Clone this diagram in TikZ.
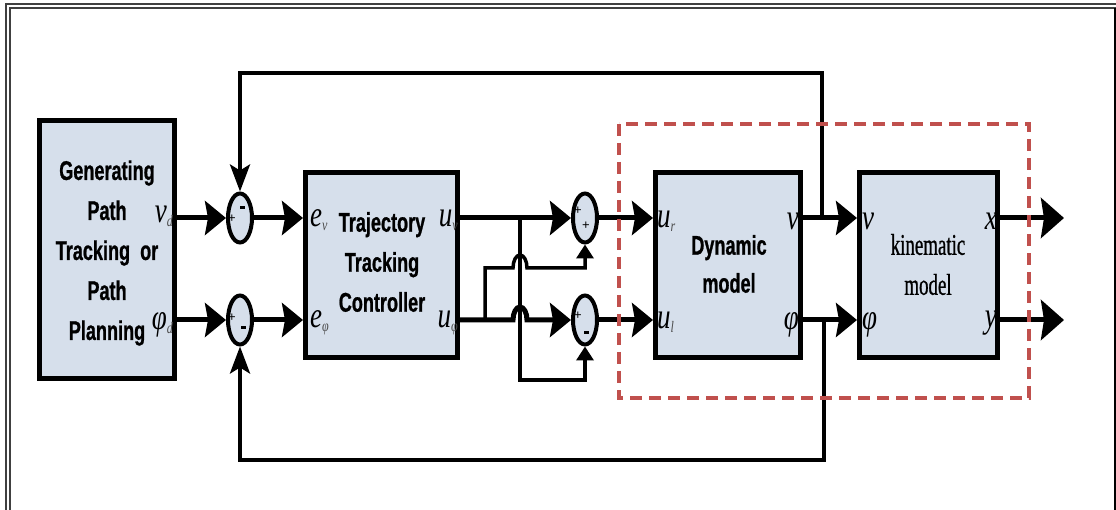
\documentclass[tikz,border=0pt]{standalone}
\usepackage{fontspec}
\setmainfont{Liberation Sans}
\newfontfamily\nsans{Liberation Sans}[FakeStretch=0.67,FakeBold=0.8]
\newfontfamily\nserif{Liberation Serif}[FakeStretch=0.63,FakeBold=0.8]
\newfontfamily\lab{Liberation Serif}[FakeStretch=0.75]
\usetikzlibrary{shapes.geometric,arrows.meta}
\definecolor{boxfill}{RGB}{214,223,235}
\definecolor{dashred}{RGB}{192,80,77}
\newcommand\lsub[1]{\raisebox{-4pt}{\fontsize{16}{16}\selectfont\color{black!70}#1}}
\begin{document}
\begin{tikzpicture}[x=1pt,y=-1pt,
  blk/.style={draw, line width=5pt, fill=boxfill, inner sep=0pt, line join=miter},
  sumj/.style={ellipse, draw, line width=4pt, fill=boxfill, minimum width=24pt, minimum height=49pt, inner sep=0pt},
  sanstxt/.style={align=center, inner sep=0pt, font=\nsans\bfseries\fontsize{27}{40}\selectfont},
  sertxt/.style={align=center, inner sep=0pt, font=\nserif\fontsize{30}{40}\selectfont},
  lbl/.style={inner sep=0pt, font=\lab\itshape\fontsize{36}{36}\selectfont},
  plussign/.style={inner sep=0pt, font=\fontsize{13}{13}\selectfont},
  minussign/.style={fill=black, minimum width=5pt, minimum height=3pt, inner sep=0pt},
  sig/.style={line width=5pt, -{Stealth[length=21pt,width=34pt,inset=3pt]}},
  sigout/.style={line width=5pt, -{Stealth[length=23pt,width=40pt,inset=3pt]}},
  fb/.style={line width=4pt, line join=miter, -{Stealth[length=27pt,width=20pt,inset=6pt]}},
  br/.style={line width=3.5pt, line join=miter, -{Triangle[length=14pt,width=17pt]}},
  dashbox/.style={draw=dashred, line width=3.5pt, dash pattern=on 12pt off 7pt}
]
\useasboundingbox (0,0) rectangle (1116,510);
% frame
\draw[line width=2pt, black!75] (1116,4) -| (5.6,510);
\draw[line width=2pt, black!75] (1116,8) -| (10.3,510);
\draw[line width=2pt] (1114.5,8) -- (1114.5,510);

% blocks
\node[blk, minimum width=135pt, minimum height=258pt] (b1) at (107,249.5) {};
\node[blk, minimum width=152pt, minimum height=185pt] (b2) at (381.5,265) {};
\node[blk, minimum width=145pt, minimum height=185pt] (b3) at (728,265) {};
\node[blk, minimum width=138pt, minimum height=185pt] (b4) at (928.5,265) {};

\node[sanstxt] (t1) at (107,253) {Generating\\Path\\Tracking\ \ or\\Path\\Planning};
\node[sanstxt] (t2) at (382,262) {Trajectory\\Tracking\\Controller};
\node[sanstxt, font=\nsans\bfseries\fontsize{27}{38}\selectfont] (t3) at (729,264) {Dynamic\\model};
\node[sertxt] (t4) at (928,264.5) {kinematic\\model};

% summing junctions
\node[sumj] (j1) at (240,218) {};
\node[sumj] (j2) at (240,320) {};
\node[sumj] (j3) at (585,218) {};
\node[sumj] (j4) at (585,320) {};

\node[plussign] (p1) at (232,219) {+};
\node[minussign] (m1) at (242,208) {};
\node[plussign] (p2) at (232,318) {+};
\node[minussign] (m2) at (243,328) {};
\node[plussign] (p3) at (578,211) {+};
\node[plussign] (p4) at (586,226) {+};
\node[plussign] (p5) at (578,316) {+};
\node[minussign] (m5) at (586,333) {};

% main signals
\draw[sig] (b1.east |- j1) -- (j1.west);
\draw[sig] (b1.east |- j2) -- (j2.west);
\draw[sig] (j1.east) -- (j1.east -| b2.west);
\draw[sig] (j2.east) -- (j2.east -| b2.west);
\draw[sig] (b2.east |- j3) -- (j3.west);
\draw[sig] (b2.east |- j4) -- (513,320) arc[start angle=180,end angle=0,x radius=7pt,y radius=13pt] -- (j4.west);
\draw[sig] (j3.east) -- (j3.east -| b3.west);
\draw[sig] (j4.east) -- (j4.east -| b3.west);
\draw[sig] (b3.east |- j3) -- (b4.west |- j3);
\draw[sig] (b3.east |- j4) -- (b4.west |- j4);
\coordinate (ox) at (1064,218);
\coordinate (oy) at (1064,320);
\draw[sigout] (b4.east |- ox) -- (ox);
\draw[sigout] (b4.east |- oy) -- (oy);

% cross branches
\coordinate (br1) at (520,218);
\coordinate (br2) at (485,320);
\draw[br] (br1) -- (520,380) -| (j4.south);
\draw[br] (br2) -- (485,268) -- (513,268) arc[start angle=180,end angle=0,x radius=7pt,y radius=13pt] -| (j3.south);

% feedback
\coordinate (fv) at (822,218);
\coordinate (fp) at (824,320);
\draw[fb] (fv) -- (822,73) -| (j1.north);
\draw[fb] (fp) -- (824,460) -| (j2.south);

% labels
\node[lbl, anchor=base east] (lvd) at (173,223) {v\lsub{d}};
\node[lbl, anchor=base east] (lpd) at (173,330) {φ\lsub{d}};
\node[lbl, anchor=base west] (lev) at (310,227) {e\lsub{v}};
\node[lbl, anchor=base west] (lep) at (310,328) {e\lsub{φ}};
\node[lbl, anchor=base east] (luv) at (458,227) {u\lsub{v}};
\node[lbl, anchor=base east] (lup) at (458,328) {u\lsub{φ}};
\node[lbl, anchor=base west] (lur) at (657,228) {u\lsub{r}};
\node[lbl, anchor=base west] (lul) at (657,329) {u\lsub{l}};
\node[lbl, anchor=base east] (ldv) at (799,230) {v};
\node[lbl, anchor=base east] (ldp) at (799,330) {φ};
\node[lbl, anchor=base west] (lkv) at (862,230) {v};
\node[lbl, anchor=base west] (lkp) at (862,330) {φ};
\node[lbl, anchor=base east] (lkx) at (997,230) {x};
\node[lbl, anchor=base east] (lky) at (997,328) {y};

% dashed region
\draw[dashbox] (619,124) rectangle (1029,398);
\end{tikzpicture}
\end{document}
